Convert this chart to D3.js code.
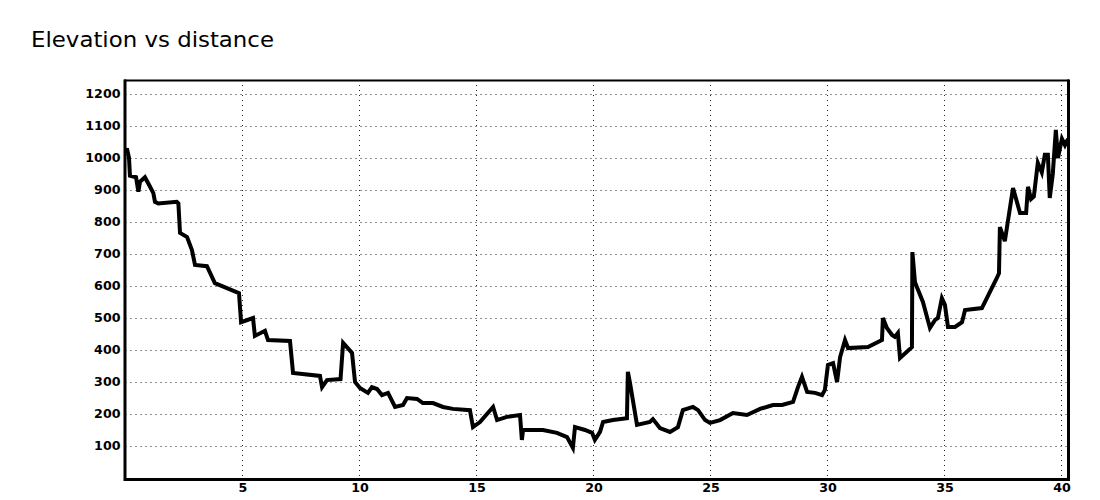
<!DOCTYPE html>
<html><head><meta charset="utf-8">
<script src="https://cdn.jsdelivr.net/npm/d3@7"></script>
<style>body{margin:0;background:#fff}</style>
</head><body>
<svg id="c" width="1100" height="500"></svg>
<script>
const chartTitle = "Elevation vs distance";
const distanceKm = [0.00,0.06,0.15,0.19,0.45,0.55,0.62,0.83,1.05,1.19,1.26,1.40,2.19,2.26,2.33,2.63,2.84,2.97,3.48,3.82,4.85,4.94,5.45,5.53,5.96,6.09,7.03,7.16,8.31,8.40,8.61,9.19,9.30,9.68,9.81,10.02,10.36,10.53,10.75,10.96,11.22,11.52,11.86,12.03,12.46,12.71,13.14,13.57,13.99,14.72,14.85,15.15,15.71,15.88,16.30,16.86,16.94,16.99,17.84,18.44,18.87,19.12,19.21,19.64,19.94,20.06,20.28,20.41,20.83,21.43,21.47,21.56,21.86,22.41,22.54,22.84,23.27,23.61,23.82,24.25,24.47,24.77,24.98,25.41,25.96,26.56,27.12,27.67,28.06,28.53,28.74,28.91,29.13,29.47,29.77,29.89,30.02,30.24,30.41,30.54,30.75,30.88,31.73,32.33,32.37,32.54,32.76,32.88,33.01,33.10,33.61,33.63,33.74,34.08,34.38,34.60,34.72,34.89,35.02,35.15,35.45,35.75,35.88,36.60,37.24,37.33,37.37,37.58,37.93,38.23,38.49,38.57,38.70,38.82,38.99,39.16,39.29,39.42,39.50,39.63,39.76,39.85,40.02,40.15,40.28];
const elevationM = [1015,1030,1000,945,940,895,926,940,910,890,863,858,863,858,766,753,712,666,662,609,578,487,500,444,460,431,428,328,319,284,306,309,422,391,300,281,266,284,278,259,266,222,228,250,247,234,234,222,216,212,159,175,222,181,191,197,119,150,150,141,128,94,159,150,141,119,144,175,181,187,332,297,166,175,184,156,144,159,212,222,212,181,172,181,203,197,216,228,228,238,284,316,269,266,259,275,353,359,300,378,431,406,409,431,500,469,447,441,453,375,409,706,612,550,469,494,500,562,541,472,472,487,525,531,625,640,784,740,906,828,828,910,872,880,985,955,1010,1010,875,950,1088,1000,1060,1040,1060];
const yTicks = [100,200,300,400,500,600,700,800,900,1000,1100,1200];
const xTicks = [5,10,15,20,25,30,35,40];

const svg = d3.select("#c");
const pL = 125.5, pR = 1068, pT = 80, pB = 478;
const x = d3.scaleLinear().domain([0, 40.28]).range([pL, pR]);
const y = d3.scaleLinear().domain([0, 1243.75]).range([pB, pT]);

svg.append("text").attr("x", 31).attr("y", 47)
  .attr("font-family", "DejaVu Sans").attr("font-size", 22).attr("fill", "#000")
  .attr("textLength", 243).attr("lengthAdjust", "spacingAndGlyphs")
  .text(chartTitle);

// grid
const g = svg.append("g");
g.selectAll("line.h").data(yTicks).enter().append("line")
  .attr("x1", pL).attr("x2", pR)
  .attr("y1", d => Math.round(y(d)) + 0.5).attr("y2", d => Math.round(y(d)) + 0.5)
  .attr("stroke", "#222").attr("stroke-width", 1).attr("stroke-dasharray", "1,4");
g.selectAll("line.v").data(xTicks).enter().append("line")
  .attr("y1", pT).attr("y2", pB)
  .attr("x1", d => Math.round(x(d)) + 0.5).attr("x2", d => Math.round(x(d)) + 0.5)
  .attr("stroke", "#222").attr("stroke-width", 1).attr("stroke-dasharray", "1,4");

// line
svg.append("clipPath").attr("id", "pc").append("rect")
  .attr("x", pL).attr("y", pT).attr("width", pR - pL).attr("height", pB - pT);
svg.append("path").datum(distanceKm.map((d, i) => [d, elevationM[i]]))
  .attr("clip-path", "url(#pc)")
  .attr("fill", "none").attr("stroke", "#000").attr("stroke-width", 4)
  .attr("stroke-linejoin", "miter")
  .attr("d", d3.line().x(d => x(d[0])).y(d => y(d[1])));

// frame
svg.append("line").attr("x1", 124).attr("x2", 1069).attr("y1", 80.5).attr("y2", 80.5).attr("stroke", "#000").attr("stroke-width", 2);
svg.append("line").attr("x1", 124).attr("x2", 1070).attr("y1", 479.5).attr("y2", 479.5).attr("stroke", "#000").attr("stroke-width", 3);
svg.append("line").attr("x1", 125).attr("x2", 125).attr("y1", 79.5).attr("y2", 481).attr("stroke", "#000").attr("stroke-width", 3);
svg.append("line").attr("x1", 1068.5).attr("x2", 1068.5).attr("y1", 79.5).attr("y2", 481).attr("stroke", "#000").attr("stroke-width", 3);

// axes labels
const lblW = d => String(d).length * 8.8;
const ya = svg.append("g").attr("transform", `translate(${pL},0)`)
  .call(d3.axisLeft(y).tickValues(yTicks).tickSize(0).tickPadding(5).tickFormat(d3.format("d")));
ya.select(".domain").remove();
ya.selectAll("text").attr("font-family", "DejaVu Sans").attr("font-size", 12).attr("font-weight", "bold").attr("fill", "#000")
  .attr("textLength", lblW).attr("lengthAdjust", "spacingAndGlyphs");

const xa = svg.append("g").attr("transform", `translate(0,${pB})`)
  .call(d3.axisBottom(x).tickValues(xTicks).tickSize(0).tickPadding(5).tickFormat(d3.format("d")));
xa.select(".domain").remove();
xa.selectAll("text").attr("font-family", "DejaVu Sans").attr("font-size", 12).attr("font-weight", "bold").attr("fill", "#000")
  .attr("textLength", lblW).attr("lengthAdjust", "spacingAndGlyphs");
</script>
</body></html>
